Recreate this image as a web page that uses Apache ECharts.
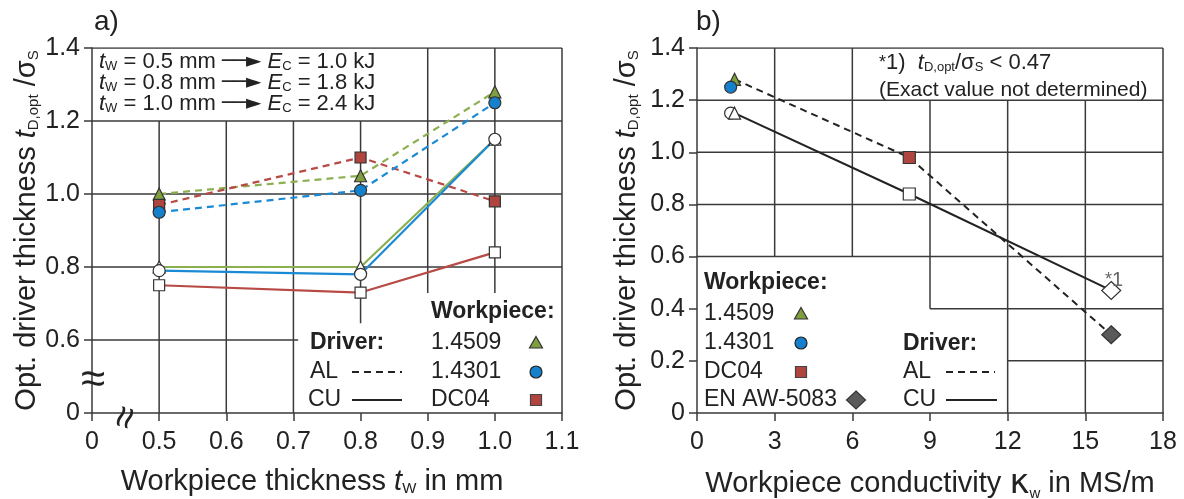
<!DOCTYPE html>
<html><head><meta charset="utf-8">
<script src="https://cdn.jsdelivr.net/npm/echarts@6/dist/echarts.min.js"></script>
<style>html,body{margin:0;padding:0;background:#fff}#c{width:1184px;height:499px}</style>
</head><body><div id="c"></div>
<script>
// ---------- Panel a data ----------
const thicknessLabels = ['0', '0.5', '0.6', '0.7', '0.8', '0.9', '1.0', '1.1'];
const yTickLabelsA = ['0', '0.6', '0.8', '1.0', '1.2', '1.4'];
const thicknessValues = [0.5, 0.8, 1.0];
const al_14509 = [1.00, 1.05, 1.28];
const al_14301 = [0.95, 1.01, 1.25];
const al_DC04 = [0.97, 1.10, 0.98];
const cu_14509 = [0.80, 0.80, 1.15];
const cu_14301 = [0.79, 0.78, 1.15];
const cu_DC04 = [0.75, 0.73, 0.84];

// ---------- Panel b data ----------
const materials = ['1.4509', '1.4301', 'DC04', 'EN AW-5083'];
const conductivity = [1.45, 1.3, 8.2, 16.0];
const alB = [1.28, 1.25, 0.98, 0.30];
const cuB = [1.15, 1.15, 0.84, 0.47];

// grid segments (axis values) [x1,y1,x2,y2]
const gridSegA = [
  [0, 1.4, 1.1, 1.4], [0, 1.2, 1.1, 1.2], [0, 1.0, 1.1, 1.0], [0, 0.8, 1.1, 0.8], [0, 0.6, 0.707, 0.6],
  [0.5, 0, 0.5, 1.2], [0.6, 0, 0.6, 1.2], [0.7, 0, 0.7, 1.2], [0.8, 0.646, 0.8, 1.2],
  [0.9, 0.729, 0.9, 1.4], [1.0, 0.729, 1.0, 1.4], [1.1, 0, 1.1, 1.4]
];
const gridSegB = [
  [0, 1.4, 18, 1.4], [0, 1.2, 18, 1.2], [0, 1.0, 18, 1.0], [0, 0.8, 18, 0.8], [0, 0.6, 18, 0.6],
  [9, 0.4, 18, 0.4], [12, 0.2, 18, 0.2],
  [3, 0.6, 3, 1.4], [6, 0.6, 6, 1.4], [9, 0.4, 9, 1.2], [12, 0, 12, 1.2], [15, 0, 15, 1.2], [18, 0, 18, 1.4]
];

// broken-axis transforms for panel a
const tx = v => v === 0 ? 0 : Math.round((v - 0.4) / 0.1 * 1000) / 1000;
const ty = v => v === 0 ? 0 : Math.round((v - 0.4) / 0.2 * 1000) / 1000;

const FONT = '"Liberation Sans", Arial, sans-serif';
const TXT = '#222';
const GRIDC = '#3a3a3a';
const GREEN = '#8cb050', BLUE = '#1a8ad4', RED = '#b84a45';
const GREEN_M = '#7f9f3e', BLUE_M = '#1580cc', RED_M = '#b0453f', GREY_M = '#5a5a5a';

const series = [];
gridSegA.forEach(s => series.push({
  type: 'line', xAxisIndex: 0, yAxisIndex: 0, silent: true, symbol: 'none', z: 1,
  data: [[tx(s[0]), ty(s[1])], [tx(s[2]), ty(s[3])]],
  lineStyle: { color: GRIDC, width: 1.5 }
}));
gridSegB.forEach(s => series.push({
  type: 'line', xAxisIndex: 1, yAxisIndex: 1, silent: true, symbol: 'none', z: 1,
  data: [[s[0], s[1]], [s[2], s[3]]],
  lineStyle: { color: GRIDC, width: 1.5 }
}));

function lineA(name, vals, color, dashed, symbol, fill, size) {
  return {
    type: 'line', name, xAxisIndex: 0, yAxisIndex: 0, z: 3,
    data: thicknessValues.map((x, i) => [tx(x), ty(vals[i])]),
    symbol, symbolSize: size, showAllSymbol: true,
    lineStyle: { color, width: 2.2, type: dashed ? [7, 5] : 'solid' },
    itemStyle: { color: fill, borderColor: '#333', borderWidth: 1.2 }
  };
}
// CU (solid, white markers)
series.push(lineA('CU 1.4509', cu_14509, GREEN, false, 'triangle', '#fff', 12));
series.push(lineA('CU 1.4301', cu_14301, BLUE, false, 'circle', '#fff', 12));
series.push(lineA('CU DC04', cu_DC04, RED, false, 'rect', '#fff', 11));
// AL (dashed, coloured markers)
series.push(lineA('AL 1.4509', al_14509, GREEN, true, 'triangle', GREEN_M, 12));
series.push(lineA('AL DC04', al_DC04, RED, true, 'rect', RED_M, 11));
series.push(lineA('AL 1.4301', al_14301, BLUE, true, 'circle', BLUE_M, 12));

// Panel b lines (through 1.4509, DC04, EN AW-5083)
const lineIdx = [0, 2, 3];
series.push({
  type: 'line', name: 'AL', xAxisIndex: 1, yAxisIndex: 1, z: 3, symbol: 'none',
  data: lineIdx.map(i => [conductivity[i], alB[i]]),
  lineStyle: { color: '#222', width: 2, type: [7, 5] }
});
series.push({
  type: 'line', name: 'CU', xAxisIndex: 1, yAxisIndex: 1, z: 3, symbol: 'none',
  data: lineIdx.map(i => [conductivity[i], cuB[i]]),
  lineStyle: { color: '#222', width: 2 }
});
const symB = ['triangle', 'circle', 'rect', 'diamond'];
const sizeB = [12, 12, 12, [19, 18]];
const fillB = [GREEN_M, BLUE_M, RED_M, GREY_M];
const orderAL = [0, 1, 2, 3];
const orderCU = [1, 0, 2, 3];
orderCU.forEach(i => series.push({
  type: 'scatter', name: 'CU ' + materials[i], xAxisIndex: 1, yAxisIndex: 1, z: 4,
  data: [[conductivity[i], cuB[i]]], symbol: symB[i], symbolSize: sizeB[i],
  itemStyle: { color: '#fff', borderColor: '#333', borderWidth: 1.2, opacity: 1 }
}));
orderAL.forEach(i => series.push({
  type: 'scatter', name: 'AL ' + materials[i], xAxisIndex: 1, yAxisIndex: 1, z: 4,
  data: [[conductivity[i], alB[i]]], symbol: symB[i], symbolSize: sizeB[i],
  itemStyle: { color: fillB[i], borderColor: '#333', borderWidth: 1.2, opacity: 1 }
}));

const axisCommon = {
  axisLine: { onZero: false, lineStyle: { color: GRIDC, width: 1.5 } },
  axisTick: { length: 8, lineStyle: { color: GRIDC, width: 1.5 } },
  splitLine: { show: false },
  nameLocation: 'middle'
};
const subRich = {
  i: { fontStyle: 'italic', fontSize: 29, fontFamily: FONT, color: TXT },
  sub: { fontSize: 15, fontFamily: FONT, color: TXT, verticalAlign: 'bottom', lineHeight: 12 },
  g: { fontSize: 29, fontFamily: FONT, color: TXT },
  k: { fontSize: 34, fontFamily: '"DejaVu Sans", sans-serif', color: TXT }
};
const yName = 'Opt. driver thickness {i|t}{sub|D,opt} /{g|σ}{sub|S}';

const textRich = {
  i: { fontStyle: 'italic', fontSize: 22, fontFamily: FONT, color: TXT },
  sub: { fontSize: 13, fontFamily: FONT, color: TXT, verticalAlign: 'bottom', lineHeight: 9 },
  ar: { fontSize: 20, fontFamily: '"DejaVu Sans", sans-serif', color: TXT },
  gr: { fontSize: 18, fontFamily: FONT, color: '#777' }
};

function txt(x, y, text, opts) {
  return Object.assign({
    type: 'text', x, y, z: 10,
    style: Object.assign({ text, fontSize: 23, fontFamily: FONT, fill: TXT, textVerticalAlign: 'middle', rich: textRich }, opts || {})
  });
}
function tri(cx, cy, fill) {
  return { type: 'polygon', z: 10, shape: { points: [[cx, cy - 6.5], [cx + 6.5, cy + 5], [cx - 6.5, cy + 5]] }, style: { fill, stroke: '#333', lineWidth: 1.2 } };
}
function circ(cx, cy, fill) {
  return { type: 'circle', z: 10, shape: { cx, cy, r: 6 }, style: { fill, stroke: '#222', lineWidth: 1.2 } };
}
function sq(cx, cy, fill) {
  return { type: 'rect', z: 10, shape: { x: cx - 5.5, y: cy - 5.5, width: 11, height: 11 }, style: { fill, stroke: '#444', lineWidth: 1.2 } };
}
function dia(cx, cy, fill) {
  return { type: 'polygon', z: 10, shape: { points: [[cx, cy - 9], [cx + 9.5, cy], [cx, cy + 9], [cx - 9.5, cy]] }, style: { fill, stroke: '#333', lineWidth: 1.2 } };
}
function seg(x1, x2, y, dashed) {
  return { type: 'line', z: 10, shape: { x1, y1: y, x2, y2: y }, style: { stroke: '#222', lineWidth: 2, lineDash: dashed ? [7, 5] : null } };
}

const graphic = [
  txt(94, 22, 'a)', { fontSize: 28 }),
  txt(696, 22, 'b)', { fontSize: 28 }),
  txt(99, 62, '{i|t}{sub|W} = 0.5 mm {ar|──►} {i|E}{sub|C} = 1.0 kJ', { fontSize: 22 }),
  txt(99, 83, '{i|t}{sub|W} = 0.8 mm {ar|──►} {i|E}{sub|C} = 1.8 kJ', { fontSize: 22 }),
  txt(99, 104, '{i|t}{sub|W} = 1.0 mm {ar|──►} {i|E}{sub|C} = 2.4 kJ', { fontSize: 22 }),
  // legend a
  txt(431, 312, 'Workpiece:', { fontWeight: 'bold' }),
  txt(310, 343, 'Driver:', { fontWeight: 'bold' }),
  txt(431, 343, '1.4509'), tri(536, 343, GREEN_M),
  txt(310, 372, 'AL'), seg(352, 402, 372, true),
  txt(431, 372, '1.4301'), circ(536, 372, BLUE_M),
  txt(308, 400, 'CU'), seg(352, 402, 400, false),
  txt(431, 400, 'DC04'), sq(536, 400, RED_M),
  // axis breaks
  { type: 'text', x: 93, y: 381, z: 10, style: { text: '≈', fontSize: 44, fontFamily: FONT, fill: TXT, textAlign: 'center', textVerticalAlign: 'middle' } },
  { type: 'text', x: 127, y: 418, z: 10, rotation: Math.PI / 2 - 0.3, style: { text: '≈', fontSize: 40, fontFamily: FONT, fill: TXT, textAlign: 'center', textVerticalAlign: 'middle' } },
  // annotation b
  txt(879, 63, '{gr|*}1)  {i|t}{sub|D,opt}/σ{sub|S} < 0.47', { fontSize: 22 }),
  txt(879, 90, '(Exact value not determined)', { fontSize: 21 }),
  txt(1105, 280, '{gr|*}1', { fontSize: 20, fill: '#666' }),
  // legend b
  txt(704, 283, 'Workpiece:', { fontWeight: 'bold' }),
  txt(704, 314, '1.4509'), tri(801, 314, GREEN_M),
  txt(704, 343, '1.4301'), circ(801, 343, BLUE_M),
  txt(704, 372, 'DC04'), sq(801, 372, RED_M),
  txt(704, 400, 'EN AW-5083'), dia(856, 400, GREY_M),
  txt(903, 344, 'Driver:', { fontWeight: 'bold' }),
  txt(903, 372, 'AL'), seg(946, 995, 372, true),
  txt(903, 400, 'CU'), seg(946, 997, 400, false)
];

const option = {
  animation: false,
  backgroundColor: '#fff',
  textStyle: { fontFamily: FONT },
  grid: [
    { left: 92, top: 48, width: 470, height: 365, containLabel: false, outerBoundsMode: 'none' },
    { left: 697, top: 48, width: 466, height: 365, containLabel: false, outerBoundsMode: 'none' }
  ],
  xAxis: [
    Object.assign({}, axisCommon, {
      type: 'value', gridIndex: 0, min: 0, max: 7, interval: 1,
      axisLabel: { formatter: v => thicknessLabels[v], fontSize: 25, color: TXT, margin: 17, fontFamily: FONT },
      name: 'Workpiece thickness {i|t}{sub|W} in mm', nameGap: 54,
      nameTextStyle: { fontSize: 29, color: TXT, fontFamily: FONT, rich: subRich, padding: [0, 30, 0, 0] }
    }),
    Object.assign({}, axisCommon, {
      type: 'value', gridIndex: 1, min: 0, max: 18, interval: 3,
      axisLabel: { fontSize: 25, color: TXT, margin: 17, fontFamily: FONT },
      name: 'Workpiece conductivity {k|κ}{sub|w} in MS/m', nameGap: 54,
      nameTextStyle: { fontSize: 29, color: TXT, fontFamily: FONT, rich: subRich }
    })
  ],
  yAxis: [
    Object.assign({}, axisCommon, {
      type: 'value', gridIndex: 0, min: 0, max: 5, interval: 1,
      axisLabel: { formatter: v => yTickLabelsA[v], fontSize: 25, color: TXT, margin: 12, fontFamily: FONT },
      name: yName, nameGap: 50,
      nameTextStyle: { fontSize: 29, color: TXT, fontFamily: FONT, rich: subRich }
    }),
    Object.assign({}, axisCommon, {
      type: 'value', gridIndex: 1, min: 0, max: 1.4, interval: 0.2,
      axisLabel: { formatter: v => v === 0 ? '0' : v.toFixed(1), fontSize: 25, color: TXT, margin: 12, fontFamily: FONT },
      name: yName, nameGap: 56,
      nameTextStyle: { fontSize: 29, color: TXT, fontFamily: FONT, rich: subRich }
    })
  ],
  series,
  graphic
};
echarts.init(document.getElementById('c')).setOption(option);
</script></body></html>
